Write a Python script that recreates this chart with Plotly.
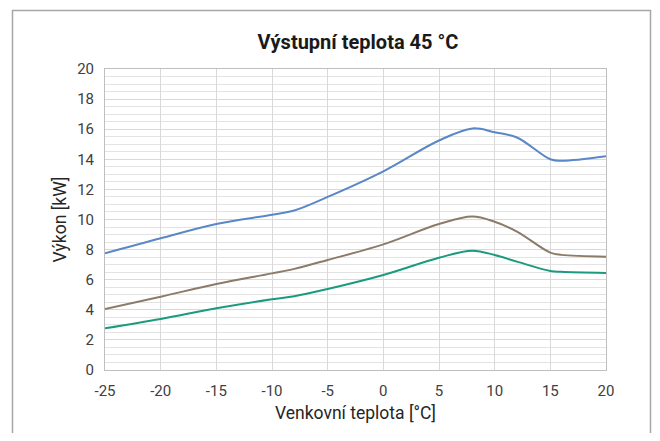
import plotly.graph_objects as go

temps = [-25, -20, -15, -10, -8, -5, 0, 5, 8, 10, 12, 15, 16, 20]
blue_vals = [7.75, 8.75, 9.7, 10.32, 10.6, 11.5, 13.2, 15.25, 16.05, 15.8, 15.45, 14.0, 13.9, 14.2]
brown_vals = [4.05, 4.87, 5.71, 6.42, 6.72, 7.31, 8.35, 9.7, 10.2, 9.85, 9.2, 7.8, 7.65, 7.53]
green_vals = [2.77, 3.39, 4.1, 4.7, 4.9, 5.38, 6.31, 7.46, 7.93, 7.64, 7.2, 6.58, 6.52, 6.45]

colors = ["#5a87c6", "#8b7b68", "#1b9a7f"]
series = [blue_vals, brown_vals, green_vals]

x_ticks = [-25, -20, -15, -10, -5, 0, 5, 10, 15, 20]
y_ticks = [0, 2, 4, 6, 8, 10, 12, 14, 16, 18, 20]

FONT = "Roboto"
OFF = 8  # default body margin of the html page
W, H = 660 - 2 * OFF, 441 - 2 * OFF
L, T = 105 - OFF, 69 - OFF
R, B = 54 - OFF, 71 - OFF
PW, PH = 501, 301

fig = go.Figure()
for vals, c in zip(series, colors):
    fig.add_trace(go.Scatter(x=temps, y=vals, mode="lines",
                             line=dict(color=c, width=2, shape="spline", smoothing=1.0),
                             showlegend=False, hoverinfo="skip"))

fig.update_layout(
    width=W, height=H,
    margin=dict(l=L, r=R, t=T, b=B),
    paper_bgcolor="white", plot_bgcolor="white",
    font=dict(family=FONT, color="#404040", size=15),
    title=dict(text="<b>Výstupní teplota 45 °C</b>", x=(358 - OFF) / W,
               xanchor="center", y=1 - (42 - OFF) / H, yanchor="middle",
               font=dict(family=FONT, size=20, color="#1a1a1a")),
    xaxis=dict(range=[-25, 20], tickvals=x_ticks, ticktext=[str(v) for v in x_ticks],
               showgrid=True, gridcolor="#d9d9d9", gridwidth=1,
               showline=True, linecolor="#bfbfbf", linewidth=1, mirror=True,
               zeroline=False, ticks="", ticklabelstandoff=7,
               title=dict(text="Venkovní teplota [°C]", standoff=7,
                          font=dict(size=17.5, color="#262626"))),
    yaxis=dict(range=[0, 20], tickvals=y_ticks, ticktext=[str(v) for v in y_ticks],
               showgrid=True, gridcolor="#d9d9d9", gridwidth=1,
               minor=dict(dtick=0.5, showgrid=True, gridcolor="#e3e3e3", gridwidth=1),
               showline=True, linecolor="#bfbfbf", linewidth=1, mirror=True,
               zeroline=False, ticks="", ticklabelstandoff=7,
               title=dict(text="Výkon [kW]", standoff=6,
                          font=dict(size=17.5, color="#262626"))),
    shapes=[dict(type="rect", xref="paper", yref="paper",
                 x0=(12.5 - 105) / PW, x1=(650.5 - 105) / PW,
                 y0=(370 - 440) / PH, y1=1 + (69 - 10.5) / PH,
                 line=dict(color="#a6a6a6", width=1.5), fillcolor="rgba(0,0,0,0)",
                 layer="below")],
)

fig.write_html("out.html")
